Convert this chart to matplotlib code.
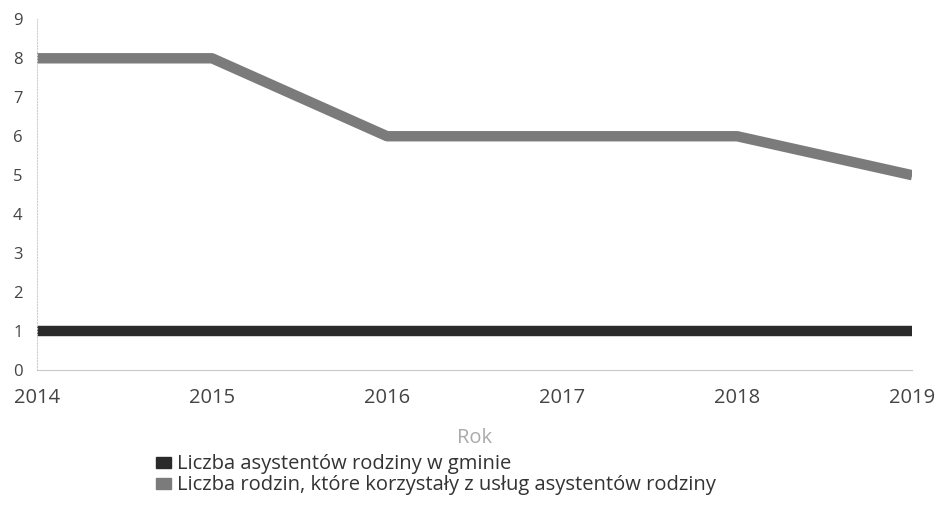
import matplotlib
matplotlib.use("Agg")
import matplotlib.pyplot as plt
from matplotlib.patches import Patch

plt.rcParams['font.family'] = ['Open Sans', 'DejaVu Sans']

lata = [2014, 2015, 2016, 2017, 2018, 2019]
asystenci = [1, 1, 1, 1, 1, 1]
rodziny = [8, 8, 6, 6, 6, 5]

nazwa_asystenci = "Liczba asystentów rodziny w gminie"
nazwa_rodziny = "Liczba rodzin, które korzystały z usług asystentów rodziny"

kolor_asystenci = "#2a2a2a"
kolor_rodziny = "#7b7b7b"

fig = plt.figure(figsize=(9.37, 5.22), dpi=100)
ax = fig.add_axes([0.0395, 0.291, 0.934, 0.672])

ax.plot(lata, asystenci, color=kolor_asystenci, linewidth=7.5, solid_capstyle='butt')
ax.plot(lata, rodziny, color=kolor_rodziny, linewidth=7.5, solid_capstyle='butt')

ax.set_xlim(lata[0], lata[-1])
ax.set_ylim(0, 9)
ax.set_yticks(range(0, 10))
ax.set_xticks(lata)

for s in ['top', 'right']:
    ax.spines[s].set_visible(False)
ax.spines['left'].set_color("#d0d0d0")
ax.spines['left'].set_linestyle(':')
ax.spines['left'].set_linewidth(0.8)
ax.spines['bottom'].set_color("#c8c8c8")
ax.spines['bottom'].set_linewidth(0.8)

ax.tick_params(axis='both', length=0, labelcolor="#444444")
ax.tick_params(axis='y', pad=10.5, labelsize=12)
ax.tick_params(axis='x', pad=13, labelsize=14.5)

ax.set_xlabel("Rok", fontsize=14.5, color="#aaaaaa", labelpad=14.5)

uchwyty = [Patch(color=kolor_asystenci, label=nazwa_asystenci),
           Patch(color=kolor_rodziny, label=nazwa_rodziny)]
fig.legend(handles=uchwyty, loc='upper left', bbox_to_anchor=(0.166, 0.1295),
           frameon=False, fontsize=14.5, handlelength=0.75, handleheight=0.45,
           handletextpad=0.3, labelspacing=0.05, borderpad=0, borderaxespad=0,
           labelcolor="#333333")

fig.savefig("out.png", dpi=100)
